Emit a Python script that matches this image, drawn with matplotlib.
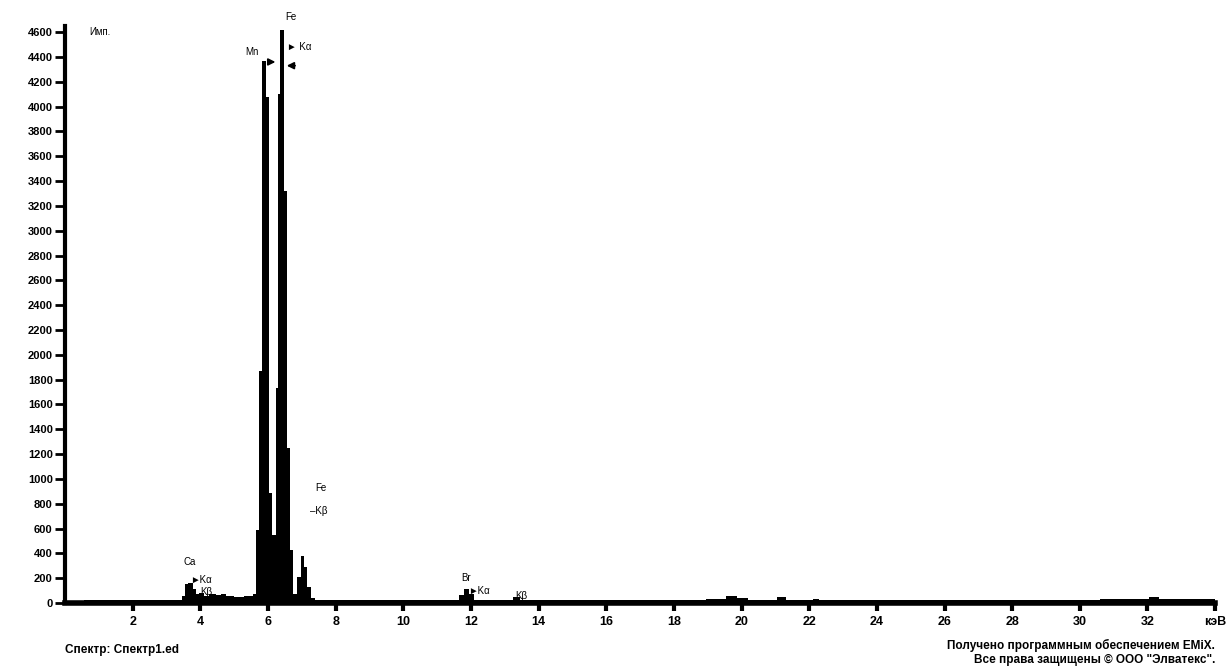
import matplotlib
matplotlib.use("Agg")
import matplotlib.pyplot as plt

plt.rcParams['font.family'] = ['Liberation Sans', 'DejaVu Sans']

# step spectrum: left bin edge (keV) and counts
energy = [0.0, 0.55, 3.45, 3.55, 3.62, 3.78, 3.86, 3.95, 4.10, 4.25, 4.45, 4.60, 4.75,
          5.00, 5.30, 5.55, 5.65, 5.74, 5.82, 5.94, 6.03, 6.12, 6.22, 6.29, 6.34,
          6.46, 6.56, 6.65, 6.75, 6.86, 6.96, 7.07, 7.16, 7.26, 7.40, 11.65, 11.78,
          11.95, 12.10, 13.25, 13.45, 18.95, 19.55, 19.85, 20.20, 21.05, 21.30,
          22.10, 22.30, 30.60, 32.05, 32.35, 33.9]
counts = [5, 22, 60, 150, 165, 110, 70, 80, 60, 75, 65, 75, 55,
          45, 55, 75, 590, 1870, 4370, 4080, 890, 550, 1730, 4100, 4620,
          3320, 1250, 430, 70, 210, 380, 290, 130, 40, 25, 65, 110,
          70, 25, 45, 25, 35, 60, 40, 25, 45, 25,
          35, 25, 32, 45, 32, 32]

x_ticks = [2, 4, 6, 8, 10, 12, 14, 16, 18, 20, 22, 24, 26, 28, 30, 32, 34]
x_tick_labels = [str(t) for t in x_ticks[:-1]] + ['кэВ']
y_ticks = list(range(0, 4601, 200))

# peak labels: (text, energy, counts)
peak_labels = [
    ('Ca', 3.69, 330), ('►Kα', 3.69, 185), ('Kβ', 3.98, 85),
    ('Mn', 5.53, 4440),
    ('Fe', 6.68, 4720), ('► Kα', 6.55, 4480),
    ('Fe', 7.55, 930), ('–Kβ', 7.24, 740),
    ('Br', 11.84, 205), ('►Kα', 11.9, 95), ('Kβ', 13.3, 55),
]

fig = plt.figure(figsize=(12.29, 6.71), dpi=100)
ax = fig.add_axes([0.053, 0.1013, 0.9357, 0.86])

ax.fill_between(energy + [34.0], counts + [counts[-1]], step='post',
                color='black', linewidth=0)

ax.set_xlim(0, 34)
ax.set_ylim(0, 4650)
ax.set_xticks(x_ticks)
ax.set_xticklabels(x_tick_labels)
ax.set_yticks(y_ticks)
ax.tick_params(axis='x', direction='out', length=6, width=3, labelsize=9, pad=3)
ax.tick_params(axis='y', direction='out', length=7, width=2, labelsize=8, pad=2)
for lab in ax.get_xticklabels() + ax.get_yticklabels():
    lab.set_fontweight('bold')

for side in ['top', 'right']:
    ax.spines[side].set_visible(False)
ax.spines['left'].set_linewidth(3)
ax.spines['bottom'].set_linewidth(4)

for txt, e, c in peak_labels:
    ax.text(e, c, txt, fontsize=7, ha='left' if txt[0] in '►–K' else 'center',
            va='center', clip_on=False)

# Mn / Fe line markers
ax.annotate('', xy=(6.30, 4360), xytext=(5.97, 4360),
            arrowprops=dict(arrowstyle='-|>', color='k', lw=1.3))
ax.annotate('', xy=(6.47, 4330), xytext=(6.88, 4330),
            arrowprops=dict(arrowstyle='-|>', color='k', lw=1.3))

ax.text(0.7, 4600, 'Имп.', fontsize=7, va='center')

fig.text(65 / 1229, 1 - 650 / 671, 'Спектр: Спектр1.ed', fontsize=8.5,
         fontweight='bold', va='center', ha='left')
fig.text(1215 / 1229, 1 - 645 / 671, 'Получено программным обеспечением EMiX.',
         fontsize=8.5, fontweight='bold', va='center', ha='right')
fig.text(1215 / 1229, 1 - 660 / 671, 'Все права защищены © ООО "Элватекс".',
         fontsize=8.5, fontweight='bold', va='center', ha='right')

fig.savefig('out.png', dpi=100)
